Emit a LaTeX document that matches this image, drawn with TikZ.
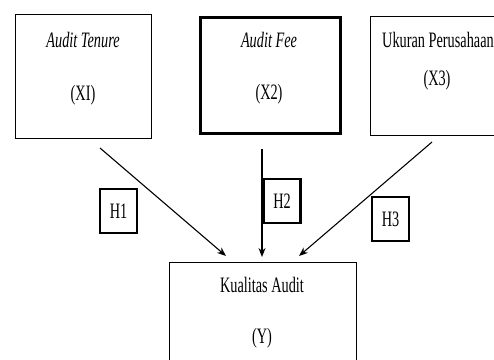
\documentclass[tikz,border=0pt]{standalone}
\usepackage{fontspec}
\setmainfont[FakeStretch=0.65]{Liberation Serif}
\usetikzlibrary{arrows.meta}
\begin{document}
\begin{tikzpicture}[x=1pt,y=-1pt,
  box/.style={draw, line width=1.2pt, inner sep=0, anchor=north west},
  thickbox/.style={draw, line width=2.8pt, inner sep=0, anchor=north west},
  hbox/.style={draw, line width=2.6pt, inner sep=0, minimum width=37pt, minimum height=44pt, font=\fontsize{22}{24}\selectfont},
  lbl/.style={font=\fontsize{22}{24}\selectfont, inner sep=0},
  conn/.style={line width=1.1pt, -{Stealth[length=9pt,width=7pt]}}]
\useasboundingbox (0,0) rectangle (494,359);
% boxes
\node[box, minimum width=136pt, minimum height=124pt] (x1) at (15,14) {};
\node[thickbox, minimum width=140pt, minimum height=116pt] (x2) at (199,16) {};
\node[box, minimum width=136pt, minimum height=119pt] (x3) at (370,16) {};
\node[box, minimum width=187pt, minimum height=110pt] (y) at (169,262) {};
% texts
\node[lbl] (t1a) at (83,40) {\itshape Audit Tenure};
\node[lbl] (t1b) at (83,95) {(XI)};
\node[lbl] (t2a) at (269,40) {\itshape Audit Fee};
\node[lbl] (t2b) at (269,94) {(X2)};
\node[lbl] (t3a) at (438,40) {Ukuran Perusahaan};
\node[lbl] (t3b) at (437,80) {(X3)};
\node[lbl] (tya) at (262,285) {Kualitas Audit};
\node[lbl] (tyb) at (262,338) {(Y)};
% connectors
\coordinate (s1) at (100,148);
\coordinate (e1) at (226,256);
\coordinate (s2) at (262,149);
\coordinate (e2) at (262,257);
\coordinate (s3) at (432,142);
\coordinate (e3) at (299,256);
\draw[conn] (s1) -- (e1);
\draw[conn] (s2) -- (e2);
\draw[conn] (s3) -- (e3);
% hypothesis labels
\node[hbox] (h1) at (118.5,211) {H1};
\node[hbox] (h2) at (282,201) {H2};
\node[hbox] (h3) at (390.5,219) {H3};
\end{tikzpicture}
\end{document}
